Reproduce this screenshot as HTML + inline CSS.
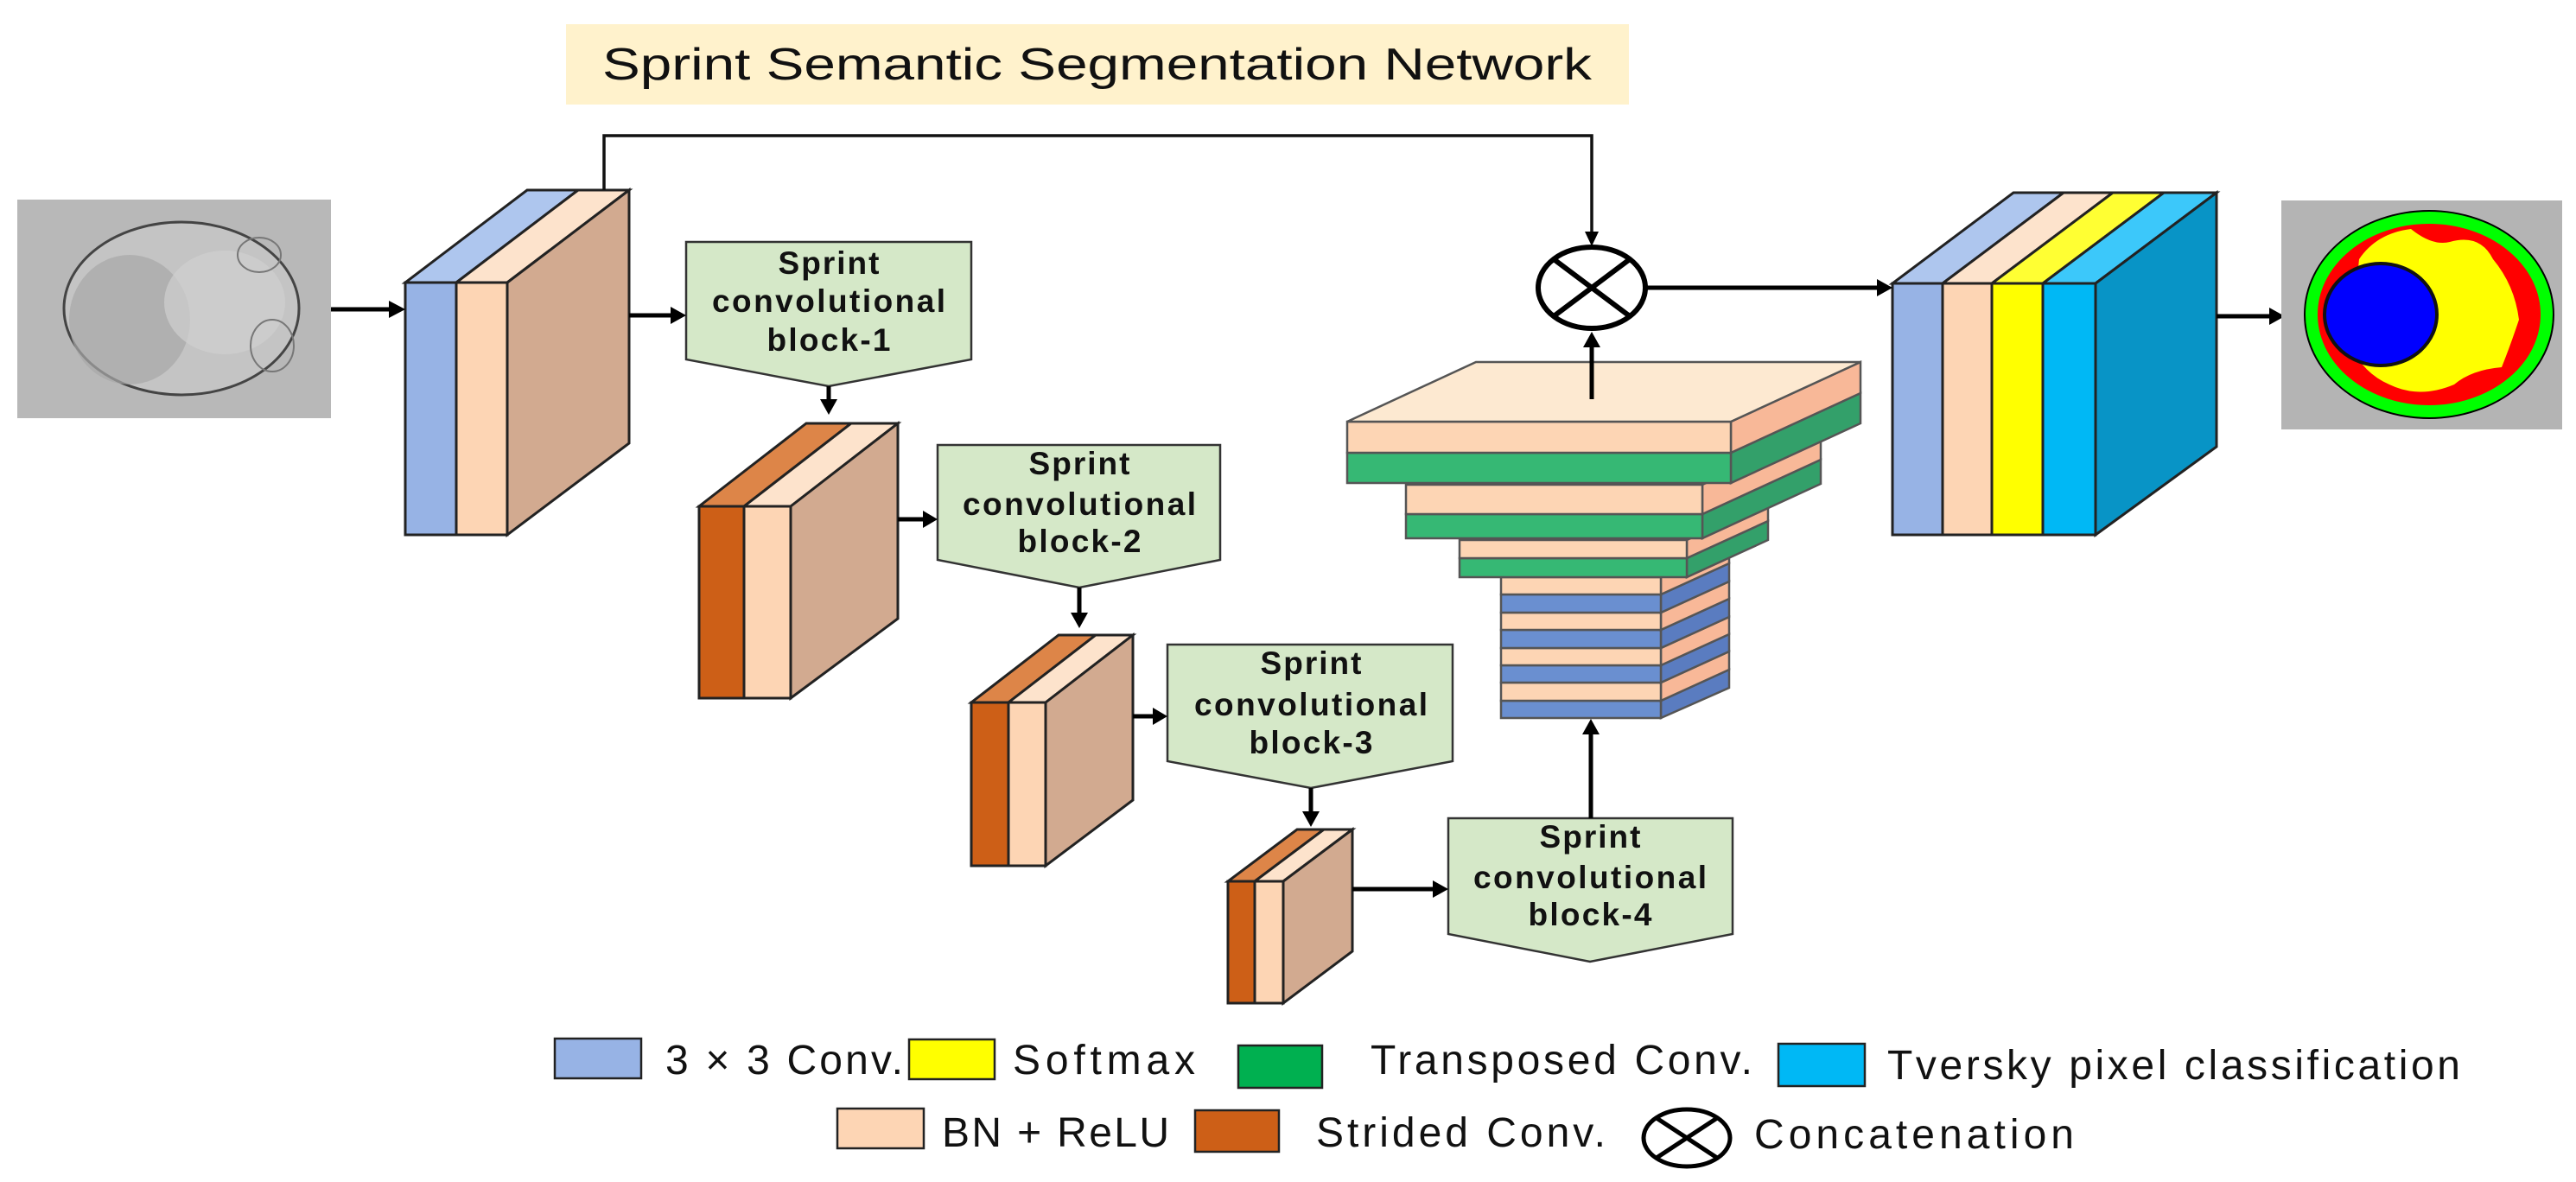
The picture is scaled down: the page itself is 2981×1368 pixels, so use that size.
<!DOCTYPE html>
<html><head><meta charset="utf-8"><style>html,body{margin:0;padding:0;background:#fff}svg{display:block}</style></head>
<body>
<svg width="2981" height="1368" viewBox="0 0 2981 1368" xmlns="http://www.w3.org/2000/svg" font-family="'Liberation Sans', sans-serif">
<!-- title -->
<rect x="655" y="28" width="1230" height="93" fill="#fff2cc"/>
<text x="697" y="92" font-size="52" fill="#111" textLength="1145" lengthAdjust="spacingAndGlyphs">Sprint Semantic Segmentation Network</text>

<!-- input image -->
<rect x="20" y="231" width="363" height="253" fill="#b8b8b8"/>
<ellipse cx="210" cy="357" rx="136" ry="100" fill="#c4c4c4" stroke="#444" stroke-width="3"/>
<ellipse cx="150" cy="370" rx="70" ry="75" fill="#a8a8a8" opacity="0.7"/>
<ellipse cx="260" cy="350" rx="70" ry="60" fill="#d0d0d0" opacity="0.7"/>
<ellipse cx="300" cy="295" rx="25" ry="20" fill="none" stroke="#777" stroke-width="2"/>
<ellipse cx="315" cy="400" rx="25" ry="30" fill="none" stroke="#777" stroke-width="2"/>

<g stroke="#222" stroke-width="3" stroke-linejoin="miter">
<polygon points="469,327 528,327 669,220 610,220" fill="#aec6ee"/>
<polygon points="528,327 587,327 728,220 669,220" fill="#fde3cc"/>
<polygon points="587,327 728,220 728,513 587,619" fill="#d2aa90"/>
<rect x="469" y="327" width="59" height="292" fill="#97b3e5"/>
<rect x="528" y="327" width="59" height="292" fill="#fdd5b4"/>
<polygon points="809,586 861,586 985,490 933,490" fill="#dd8548"/>
<polygon points="861,586 915,586 1039,490 985,490" fill="#fde3cc"/>
<polygon points="915,586 1039,490 1039,716 915,808" fill="#d2aa90"/>
<rect x="809" y="586" width="52" height="222" fill="#cd5f17"/>
<rect x="861" y="586" width="54" height="222" fill="#fdd5b4"/>
<polygon points="1124,813 1167,813 1268,735 1225,735" fill="#dd8548"/>
<polygon points="1167,813 1210,813 1311,735 1268,735" fill="#fde3cc"/>
<polygon points="1210,813 1311,735 1311,926 1210,1002" fill="#d2aa90"/>
<rect x="1124" y="813" width="43" height="189" fill="#cd5f17"/>
<rect x="1167" y="813" width="43" height="189" fill="#fdd5b4"/>
<polygon points="1421,1020 1452,1020 1532,960 1501,960" fill="#dd8548"/>
<polygon points="1452,1020 1485,1020 1565,960 1532,960" fill="#fde3cc"/>
<polygon points="1485,1020 1565,960 1565,1101 1485,1161" fill="#d2aa90"/>
<rect x="1421" y="1020" width="31" height="141" fill="#cd5f17"/>
<rect x="1452" y="1020" width="33" height="141" fill="#fdd5b4"/>
<polygon points="2190,328 2248,328 2388,223 2330,223" fill="#aec6ee"/>
<polygon points="2248,328 2305,328 2445,223 2388,223" fill="#fde3cc"/>
<polygon points="2305,328 2364,328 2504,223 2445,223" fill="#ffff33"/>
<polygon points="2364,328 2425,328 2565,223 2504,223" fill="#3cc8fa"/>
<polygon points="2425,328 2565,223 2565,517 2425,619" fill="#0894c6"/>
<rect x="2190" y="328" width="58" height="291" fill="#97b3e5"/>
<rect x="2248" y="328" width="57" height="291" fill="#fdd5b4"/>
<rect x="2305" y="328" width="59" height="291" fill="#ffff00"/>
<rect x="2364" y="328" width="61" height="291" fill="#00b8f5"/>
</g>

<g stroke="#555" stroke-width="2.5">
<polygon points="1922,811 2001,775 2001,796 1922,831" fill="#5a7cc0"/><rect x="1737" y="811" width="185" height="20" fill="#6a8fd0"/>
<polygon points="1922,790 2001,754 2001,775 1922,811" fill="#f8b898"/><rect x="1737" y="790" width="185" height="21" fill="#fdd5b4"/>
<polygon points="1922,770 2001,734 2001,754 1922,790" fill="#5a7cc0"/><rect x="1737" y="770" width="185" height="20" fill="#6a8fd0"/>
<polygon points="1922,750 2001,714 2001,734 1922,770" fill="#f8b898"/><rect x="1737" y="750" width="185" height="20" fill="#fdd5b4"/>
<polygon points="1922,729 2001,693 2001,714 1922,750" fill="#5a7cc0"/><rect x="1737" y="729" width="185" height="21" fill="#6a8fd0"/>
<polygon points="1922,709 2001,673 2001,693 1922,729" fill="#f8b898"/><rect x="1737" y="709" width="185" height="20" fill="#fdd5b4"/>
<polygon points="1922,688 2001,652 2001,673 1922,709" fill="#5a7cc0"/><rect x="1737" y="688" width="185" height="21" fill="#6a8fd0"/>
<polygon points="1922,668 2001,632 2001,652 1922,688" fill="#f8b898"/><rect x="1737" y="668" width="185" height="20" fill="#fdd5b4"/>
<polygon points="1952,646 2046,603 2046,625 1952,668" fill="#33a06a"/><rect x="1689" y="646" width="263" height="22" fill="#36b874"/>
<polygon points="1952,625 2046,582 2046,603 1952,646" fill="#f8b898"/><rect x="1689" y="625" width="263" height="21" fill="#fdd5b4"/>
<polygon points="1970,595 2107,532 2107,560 1970,623" fill="#33a06a"/><rect x="1627" y="595" width="343" height="28" fill="#36b874"/>
<polygon points="1970,561 2107,498 2107,532 1970,595" fill="#f8b898"/><rect x="1627" y="561" width="343" height="34" fill="#fdd5b4"/>
<polygon points="2003,524 2153,455 2153,490 2003,559" fill="#33a06a"/><rect x="1559" y="524" width="444" height="35" fill="#36b874"/>
<polygon points="2003,488 2153,419 2153,455 2003,524" fill="#f8b898"/><rect x="1559" y="488" width="444" height="36" fill="#fdd5b4"/>
<polygon points="1559,488 2003,488 2153,419 1708,419" fill="#fde9d1"/>
</g>

<g fill="#d5e8c8" stroke="#333" stroke-width="2.5">
<polygon points="794,280 1124,280 1124,416 959,447 794,416"/>
<polygon points="1085,515 1412,515 1412,648 1249,680 1085,648"/>
<polygon points="1351,746 1681,746 1681,881 1517,912 1351,881"/>
<polygon points="1676,947 2005,947 2005,1081 1840,1113 1676,1081"/>
</g>
<g font-weight="bold" font-size="37" fill="#111" text-anchor="middle" lengthAdjust="spacingAndGlyphs">
<text x="959" y="317" textLength="117">Sprint</text><text x="959" y="361" textLength="270">convolutional</text><text x="959" y="406" textLength="143">block-1</text>
<text x="1249" y="549" textLength="117">Sprint</text><text x="1249" y="596" textLength="270">convolutional</text><text x="1249" y="639" textLength="143">block-2</text>
<text x="1517" y="780" textLength="117">Sprint</text><text x="1517" y="828" textLength="270">convolutional</text><text x="1517" y="872" textLength="143">block-3</text>
<text x="1840" y="981" textLength="117">Sprint</text><text x="1840" y="1028" textLength="270">convolutional</text><text x="1840" y="1071" textLength="143">block-4</text>
</g>

<g stroke="#000" stroke-width="5" fill="none">
<line x1="383" y1="358" x2="455" y2="358"/>
<line x1="728" y1="365" x2="780" y2="365"/>
<line x1="959" y1="447" x2="959" y2="466"/>
<line x1="1039" y1="601" x2="1072" y2="601"/>
<line x1="1249" y1="680" x2="1249" y2="713"/>
<line x1="1311" y1="829" x2="1338" y2="829"/>
<line x1="1517" y1="912" x2="1517" y2="943"/>
<line x1="1565" y1="1029" x2="1660" y2="1029"/>
<line x1="1841" y1="947" x2="1841" y2="846"/>
<line x1="1842" y1="462" x2="1842" y2="398"/>
<line x1="1905" y1="333" x2="2175" y2="333"/>
<line x1="2565" y1="366" x2="2628" y2="366"/>
</g>
<polyline points="699,220 699,157 1842,157 1842,270" fill="none" stroke="#111" stroke-width="3.5"/>
<g fill="#000">
<polygon points="469,358 450,348 450,368"/>
<polygon points="794,365 776,355 776,375"/>
<polygon points="959,480 949,462 969,462"/>
<polygon points="1085,601 1068,591 1068,611"/>
<polygon points="1249,727 1239,709 1259,709"/>
<polygon points="1351,829 1334,819 1334,839"/>
<polygon points="1517,957 1507,939 1527,939"/>
<polygon points="1676,1029 1658,1019 1658,1039"/>
<polygon points="1841,832 1831,850 1851,850"/>
<polygon points="1842,384 1832,402 1852,402"/>
<polygon points="1842,285 1834,268 1850,268"/>
<polygon points="2190,333 2172,323 2172,343"/>
<polygon points="2644,366 2626,356 2626,376"/>
</g>
<ellipse cx="1842" cy="333" rx="62" ry="47" fill="#fff" stroke="#000" stroke-width="6"/>
<line x1="1798" y1="300" x2="1886" y2="366" stroke="#000" stroke-width="6"/>
<line x1="1886" y1="300" x2="1798" y2="366" stroke="#000" stroke-width="6"/>

<rect x="2640" y="232" width="325" height="265" fill="#b4b4b4"/>
<ellipse cx="2811" cy="364" rx="145" ry="121" fill="#000"/>
<ellipse cx="2811" cy="364" rx="136" ry="112" fill="#ff0000" stroke="#00ff00" stroke-width="14"/>
<path d="M2730,300 Q2750,270 2790,265 Q2815,285 2835,280 Q2870,270 2885,300 Q2910,330 2915,370 Q2905,400 2895,425 Q2860,428 2840,445 Q2800,462 2765,445 Q2735,432 2720,400 Z" fill="#ffff00"/>
<ellipse cx="2755" cy="364" rx="65" ry="59" fill="#0000ff" stroke="#111" stroke-width="4"/>

<g stroke="#222" stroke-width="2.5">
<rect x="642" y="1202" width="100" height="46" fill="#97b3e5"/>
<rect x="1052" y="1203" width="99" height="46" fill="#ffff00"/>
<rect x="1433" y="1210" width="97" height="49" fill="#00b050"/>
<rect x="2058" y="1208" width="100" height="49" fill="#00b8f5"/>
<rect x="969" y="1283" width="100" height="46" fill="#fdd5b4"/>
<rect x="1383" y="1285" width="97" height="48" fill="#cd5f17"/>
</g>
<ellipse cx="1952" cy="1317" rx="50" ry="33" fill="none" stroke="#000" stroke-width="5"/>
<line x1="1917" y1="1294" x2="1987" y2="1340" stroke="#000" stroke-width="5"/>
<line x1="1987" y1="1294" x2="1917" y2="1340" stroke="#000" stroke-width="5"/>
<g font-size="48" fill="#111" lengthAdjust="spacingAndGlyphs">
<text x="770" y="1243" textLength="275">3 × 3 Conv.</text>
<text x="1172" y="1243" textLength="211">Softmax</text>
<text x="1586" y="1243" textLength="442">Transposed Conv.</text>
<text x="2184" y="1249" textLength="663">Tversky pixel classification</text>
<text x="1090" y="1327" textLength="263">BN + ReLU</text>
<text x="1523" y="1327" textLength="335">Strided Conv.</text>
<text x="2030" y="1329" textLength="370">Concatenation</text>
</g>
</svg>
</body></html>
